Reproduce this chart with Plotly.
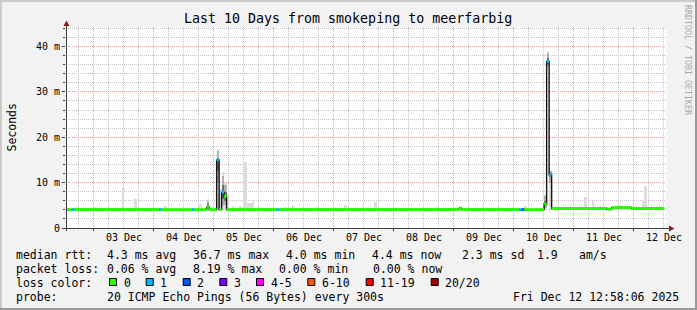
import plotly.graph_objects as go

# ---------------- data ----------------
range_start = "2025-12-02 13:00:00"
range_end = "2025-12-12 13:00:00"

# median rtt (ms) as steps: each value holds until the next time
median_time = [
    "2025-12-02 12:58", "2025-12-02 15:15", "2025-12-02 16:15",
    "2025-12-04 02:15", "2025-12-04 03:15",
    "2025-12-04 15:15", "2025-12-04 16:15",
    "2025-12-04 21:15", "2025-12-04 22:15",
    "2025-12-05 01:15", "2025-12-05 02:15", "2025-12-05 03:15",
    "2025-12-05 04:15", "2025-12-05 05:15",
    "2025-12-06 01:15", "2025-12-06 02:15",
    "2025-12-09 02:15", "2025-12-09 03:15",
    "2025-12-10 02:15", "2025-12-10 03:15", "2025-12-10 04:15",
    "2025-12-10 12:15", "2025-12-10 13:15", "2025-12-10 14:15",
    "2025-12-10 15:15",
    "2025-12-11 13:15", "2025-12-11 15:15", "2025-12-11 23:15",
    "2025-12-12 12:15",
]
median_ms = [
    4.05, 4.05, 4.05,
    4.05, 4.05,
    4.05, 4.05,
    4.6, 4.05,
    15.0, 4.05, 7.9,
    7.0, 4.05,
    4.05, 4.05,
    4.35, 4.05,
    4.05, 4.05, 4.05,
    5.3, 36.7, 11.7,
    4.3,
    4.15, 4.5, 4.3,
    4.3,
]
loss_count = [
    0, 1, 0,
    1, 0,
    1, 0,
    0, 0,
    1, 0, 1,
    0, 0,
    1, 0,
    0, 0,
    1, 2, 0,
    0, 1, 1,
    0,
    0, 0, 0,
    0,
]

# smoke (hourly slots): outer light layer
smoke_time = [
    "2025-12-03 00:15", "2025-12-03 11:15", "2025-12-03 16:15", "2025-12-04 04:15",
    "2025-12-04 18:15", "2025-12-04 21:15", "2025-12-05 01:15", "2025-12-05 02:15",
    "2025-12-05 03:15", "2025-12-05 04:15", "2025-12-05 07:15", "2025-12-05 10:15",
    "2025-12-05 12:15", "2025-12-05 13:15", "2025-12-05 14:15", "2025-12-05 15:15",
    "2025-12-05 22:15", "2025-12-06 04:15", "2025-12-06 07:15", "2025-12-06 09:15",
    "2025-12-06 16:15", "2025-12-07 00:15", "2025-12-07 04:15", "2025-12-07 16:15",
    "2025-12-09 14:15", "2025-12-10 00:15", "2025-12-10 04:15", "2025-12-10 10:15",
    "2025-12-10 12:15", "2025-12-10 13:15", "2025-12-10 14:15", "2025-12-10 20:15",
    "2025-12-11 04:15", "2025-12-11 07:15", "2025-12-11 10:15", "2025-12-11 11:15",
    "2025-12-11 12:15", "2025-12-11 18:15", "2025-12-11 21:15", "2025-12-12 00:15",
    "2025-12-12 03:15", "2025-12-12 04:15", "2025-12-12 06:15", "2025-12-12 07:15",
    "2025-12-12 09:15", "2025-12-12 10:15", "2025-12-12 11:15",
]
smoke_lo = [
    3.9, 3.9, 3.9, 3.9, 3.9, 3.9, 3.9, 3.9, 3.9, 3.9, 3.9, 3.9,
    3.9, 3.9, 3.9, 3.9, 3.9, 3.9, 3.9, 3.9, 3.9, 3.9, 3.9, 3.9,
    3.9, 3.9, 3.9, 3.9, 3.9, 35.5, 3.9, 3.9, 3.9, 3.9, 3.9, 3.9,
    3.9, 3.9, 3.9, 3.9, 3.9, 3.9, 3.9, 3.9, 3.9, 3.9, 3.9,
]
smoke_hi = [
    4.6, 9.0, 6.5, 4.8, 5.2, 6.5, 17.5, 8.5, 12.4, 10.0, 4.8, 4.9,
    14.5, 5.5, 5.5, 6.2, 4.5, 4.7, 5.0, 4.5, 4.5, 4.5, 5.0, 5.7,
    4.4, 4.4, 4.8, 4.5, 7.3, 39.0, 12.6, 4.7, 6.75, 5.9, 4.85, 4.7,
    4.7, 5.1, 4.8, 4.6, 5.9, 9.2, 4.6, 4.6, 4.7, 4.7, 4.7,
]

# denser smoke around the disturbed hours
dense_time = [
    "2025-12-04 21:15", "2025-12-05 01:15", "2025-12-05 03:15", "2025-12-05 04:15",
    "2025-12-10 12:15", "2025-12-10 13:15", "2025-12-10 14:15",
]
mid_lo = [4.1, 10.0, 5.0, 5.0, 4.3, 35.8, 10.0]
mid_hi = [6.0, 17.0, 11.5, 9.5, 7.0, 38.5, 12.5]
core_lo = [4.4, 12.5, 6.5, 6.0, 4.8, 36.2, 11.3]
core_hi = [5.3, 15.5, 9.5, 8.0, 6.0, 37.5, 12.2]

# loss colour classes
loss_labels = ["0", "1", "2", "3", "4-5", "6-10", "11-19", "20/20"]
loss_upper = [0, 1, 2, 3, 5, 10, 19, 20]
loss_colors = ["#26ff00", "#00b8ff", "#0059ff", "#7e00ff", "#ff00ff", "#ff5500", "#ff0000", "#a10000"]

# axis ticks
y_ticks = [0, 10, 20, 30, 40]
y_tick_labels = ["0", "10 m", "20 m", "30 m", "40 m"]
x_label_dates = ["2025-12-03 12:00", "2025-12-04 12:00", "2025-12-05 12:00", "2025-12-06 12:00",
                 "2025-12-07 12:00", "2025-12-08 12:00", "2025-12-09 12:00", "2025-12-10 12:00",
                 "2025-12-11 12:00", "2025-12-12 12:00"]
x_labels = ["03 Dec", "04 Dec", "05 Dec", "06 Dec", "07 Dec",
            "08 Dec", "09 Dec", "10 Dec", "11 Dec", "12 Dec"]

title = "Last 10 Days from smokeping to meerfarbig"
stats_rows = [
    ("median rtt:", ["4.3 ms avg", "36.7 ms max", "4.0 ms min", "4.4 ms now", "2.3 ms sd", "1.9", "am/s"]),
    ("packet loss:", ["0.06 % avg", "8.19 % max", "0.00 % min", "0.00 % now"]),
]
probe_text = "20 ICMP Echo Pings (56 Bytes) every 300s"
stamp_text = "Fri Dec 12 12:58:06 2025"

# ---------------- layout geometry ----------------
W, H = 697, 310
L, R, T, B = 66, 31, 27, 82
PW, PH = W - L - R, H - T - B
Y_TOP = 44.3
FONT = "DejaVu Sans Mono"


def fx(p):
    return (p - L) / PW


def fy(p):
    return (H - B - p) / PH


fig = go.Figure()


def smoke(times, lo, hi, color):
    fig.add_trace(go.Bar(
        x=times, base=lo, y=[h - l for h, l in zip(hi, lo)],
        width=3600000, offset=0,
        marker=dict(color=color, line=dict(width=0)),
        hoverinfo="skip", showlegend=False))


smoke(smoke_time, smoke_lo, smoke_hi, "#dcdcdc")
smoke(dense_time, mid_lo, mid_hi, "#b0b0b0")
smoke(dense_time, core_lo, core_hi, "#6e6e6e")

# dark median line
fig.add_trace(go.Scatter(
    x=median_time, y=median_ms, mode="lines",
    line=dict(color="#141414", width=1.4, shape="hv"),
    hoverinfo="skip", showlegend=False))


def loss_class(n):
    for k, u in enumerate(loss_upper):
        if n <= u:
            return k
    return len(loss_upper) - 1


for k, col in enumerate(loss_colors):
    xs, ys = [], []
    for i in range(len(median_time) - 1):
        if loss_class(loss_count[i]) == k:
            xs += [median_time[i], median_time[i + 1], None]
            ys += [median_ms[i], median_ms[i], None]
    if xs:
        fig.add_trace(go.Scatter(
            x=xs, y=ys, mode="lines", line=dict(color=col, width=3),
            hoverinfo="skip", showlegend=False))

major_grid = "#eda3a3"
minor_grid = "#c2c2c2"

fig.update_layout(
    width=W, height=H,
    margin=dict(l=L, r=R, t=T, b=B, pad=0),
    paper_bgcolor="#f2f2f2", plot_bgcolor="#ffffff",
    barmode="overlay", bargap=0, showlegend=False,
    font=dict(family=FONT, color="#000000"),
    xaxis=dict(
        type="date", range=[range_start, range_end],
        tickmode="linear", tick0="2025-12-03 00:00", dtick=86400000,
        showticklabels=False,
        ticks="outside", ticklen=2, tickcolor="#404040",
        showgrid=True, gridcolor=major_grid, griddash="1px,1px", gridwidth=1,
        minor=dict(tickmode="linear", dtick=21600000, tick0="2025-12-03 00:00", showgrid=True,
                   gridcolor=minor_grid, griddash="1px,1px", gridwidth=1, ticks=""),
        showline=False, zeroline=False, fixedrange=True),
    yaxis=dict(
        range=[0, Y_TOP], tickmode="array", tickvals=y_ticks, ticktext=y_tick_labels,
        ticks="outside", ticklen=3, tickcolor="#404040",
        tickfont=dict(size=10, family=FONT, color="#000"),
        showgrid=True, gridcolor=major_grid, griddash="1px,1px", gridwidth=1,
        minor=dict(tickmode="linear", dtick=2, tick0=0, showgrid=True, gridcolor=minor_grid,
                   griddash="1px,1px", gridwidth=1, ticks="outside", ticklen=2, tickcolor="#404040"),
        zeroline=False, showline=False, fixedrange=True),
)

shapes = []
# outer 3D frame
shapes += [
    dict(type="rect", xref="paper", yref="paper", x0=fx(0), x1=fx(W), y0=fy(0), y1=fy(2),
         fillcolor="#cbcbcb", line=dict(width=0)),
    dict(type="rect", xref="paper", yref="paper", x0=fx(0), x1=fx(2), y0=fy(0), y1=fy(H),
         fillcolor="#cbcbcb", line=dict(width=0)),
    dict(type="rect", xref="paper", yref="paper", x0=fx(0), x1=fx(W), y0=fy(H - 2), y1=fy(H),
         fillcolor="#9a9a9a", line=dict(width=0)),
    dict(type="rect", xref="paper", yref="paper", x0=fx(W - 2), x1=fx(W), y0=fy(0), y1=fy(H),
         fillcolor="#9a9a9a", line=dict(width=0)),
]
# axes with arrows
shapes += [
    dict(type="line", xref="paper", yref="paper", x0=fx(66.5), x1=fx(66.5), y0=fy(231), y1=fy(24),
         line=dict(color="#404040", width=1)),
    dict(type="line", xref="paper", yref="paper", x0=fx(63), x1=fx(670), y0=fy(228.5), y1=fy(228.5),
         line=dict(color="#404040", width=1)),
    dict(type="path", xref="paper", yref="paper",
         path="M %f %f L %f %f L %f %f Z" % (fx(63.5), fy(26), fx(69.5), fy(26), fx(66.5), fy(20.5)),
         fillcolor="#8b1a1a", line=dict(width=0)),
    dict(type="path", xref="paper", yref="paper",
         path="M %f %f L %f %f L %f %f Z" % (fx(669), fy(225.5), fx(669), fy(231.5), fx(674.5), fy(228.5)),
         fillcolor="#8b1a1a", line=dict(width=0)),
]

annotations = []


def ann(text, x, y, size=11.5, color="#000000", xanchor="left", angle=0):
    annotations.append(dict(
        text=text, x=fx(x), y=fy(y), xref="paper", yref="paper", showarrow=False,
        xanchor=xanchor, yanchor="middle", textangle=angle,
        font=dict(family=FONT, size=size, color=color), borderpad=0, borderwidth=0))


# x tick labels, placed at noon through the date axis
for d, lab in zip(x_label_dates, x_labels):
    annotations.append(dict(
        text=lab, x=d, xref="x", y=fy(237.7), yref="paper", showarrow=False,
        xanchor="center", yanchor="middle",
        font=dict(family=FONT, size=10, color="#000000"), borderpad=0, borderwidth=0))

ann(title, 348, 19, size=13.3, xanchor="center")
ann("RRDTOOL / TOBI OETIKER", 688, 60, size=8.3, color="#a8a8a8", xanchor="center", angle=90)
ann("Seconds", 11, 127.5, size=11.5, xanchor="center", angle=-90)

row_y = [254.5, 268.6, 282.6, 296.6]
row1_x = [107.3, 192.7, 285.7, 372.3, 462.3, 537.3, 579.3]
row2_x = [107.3, 193.3, 279.3, 372.7]
for (head, items), xs_, yy in zip(stats_rows, [row1_x, row2_x], row_y[:2]):
    ann(head, 16, yy)
    for t, xx in zip(items, xs_):
        ann(t, xx, yy)

ann("loss color:", 16, row_y[2])
box_x = [109, 145.7, 182.7, 219.3, 256, 307.3, 365.7, 430.7]
for lab, col, bx in zip(loss_labels, loss_colors, box_x):
    shapes.append(dict(type="rect", xref="paper", yref="paper",
                       x0=fx(bx + 0.5), x1=fx(bx + 7.5), y0=fy(278.5), y1=fy(285.5),
                       fillcolor=col, line=dict(color="#000000", width=1)))
    ann(lab, bx + 14.5, row_y[2])

ann("probe:", 16, row_y[3])
ann(probe_text, 107.3, row_y[3])
ann(stamp_text, 513.3, row_y[3])

fig.update_layout(shapes=shapes, annotations=annotations)
fig.write_html("out.html")
